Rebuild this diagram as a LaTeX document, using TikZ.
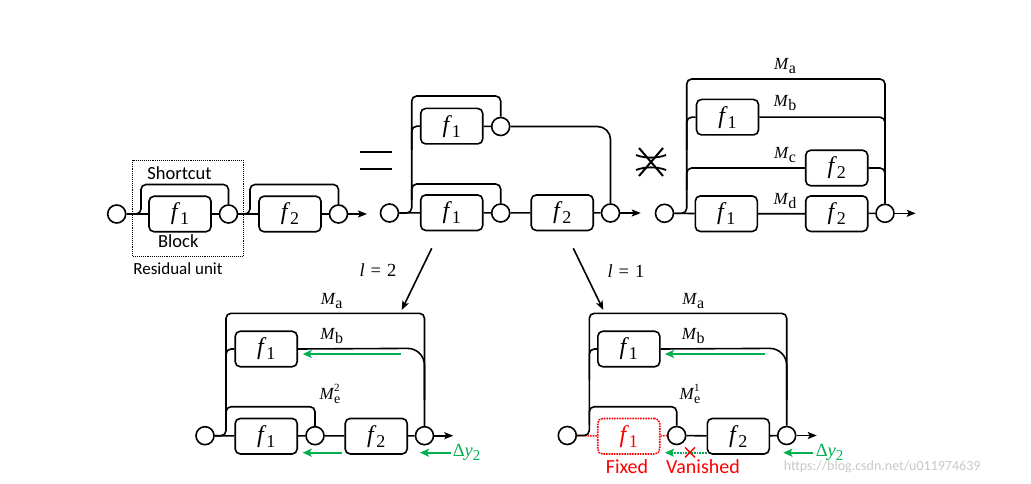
\documentclass[tikz,border=0pt]{standalone}
\usepackage{fontspec}
\setmainfont{Carlito}
\newfontfamily\mf{Liberation Serif}
\usetikzlibrary{arrows.meta}
\definecolor{gr}{HTML}{00B050}
\definecolor{rd}{HTML}{FF0000}
\definecolor{wm}{HTML}{C8C8C8}
\newcommand\fv[1]{{\mf\itshape f}\kern2.5pt\raisebox{-5pt}{\fontsize{18}{18}\selectfont\mf #1}}
\newcommand\Mv[1]{{\mf\itshape M}\kern0.5pt\raisebox{-4pt}{\fontsize{16}{16}\selectfont\mf #1}}
\newcommand\Mev[1]{{\mf\itshape M}\kern0.5pt\rlap{\raisebox{8pt}{\fontsize{11}{11}\selectfont\mf #1}}\raisebox{-4pt}{\fontsize{14}{14}\selectfont\mf e}}
\newcommand\dyv{{\mf Δ\itshape y}\raisebox{-4pt}{\fontsize{15}{15}\selectfont\mf 2}}
\newcommand\lv[1]{{\mf\itshape l}\kern6pt{\mf =}\kern6pt{\mf #1}}
\begin{document}
\begin{tikzpicture}[x=1pt,y=-1pt,line width=1.6pt,
  circ/.style={circle,draw,minimum size=18pt,inner sep=0pt,line width=1.6pt},
  blk/.style={draw,rounded corners=5pt,minimum width=62pt,minimum height=35.5pt,inner sep=0pt,font=\fontsize{24}{26}\selectfont},
  lbl/.style={font=\fontsize{17}{20}\selectfont,inner sep=0pt},
  lblb/.style={font=\fontsize{18.5}{20}\selectfont,inner sep=0pt},
  rlbl/.style={font=\fontsize{20}{22}\selectfont,inner sep=0pt,text=rd},
  mlbl/.style={font=\fontsize{17}{19}\selectfont,inner sep=0pt},
  llbl/.style={font=\fontsize{18.5}{20}\selectfont,inner sep=0pt},
  arr/.style={-{Stealth[length=9pt,width=7pt,inset=2pt]}},
  garr/.style={draw=gr,line width=1.8pt,-{Stealth[length=9pt,width=8pt,inset=2pt]}},
  rc/.style={rounded corners=5pt}]
\useasboundingbox (0,0) rectangle (1031,484);

% ---------------- left: residual units
\node[circ] (c1) at (116.7,214) {};
\node[blk] (b1) at (180,214) {\fv{1}};
\node[circ] (c2) at (228.5,214) {};
\node[blk] (b2) at (290,214) {\fv{2}};
\node[circ] (c3) at (338.5,214) {};
\coordinate (o1) at (367,214);
\draw (c1) -- (b1) -- (c2) -- (b2) -- (c3);
\draw[arr] (c3) -- (o1);
\draw[rc] (c1.east) -- (141,214) -- (141,184.5) -- (228.5,184.5) -- (c2.north);
\draw[rc] (c2.east) -- (250,214) -- (250,184.5) -- (338.5,184.5) -- (c3.north);
\draw[densely dotted,line width=0.9pt] (132.3,160) rectangle (243,256);
\node[lblb] (tshort) at (179.5,173.3) {Shortcut};
\node[lblb] (tblock) at (178.3,241) {Block};
\node[lbl] (tres) at (178,268.3) {Residual unit};

% equals sign
\draw[line width=2.2pt] (360,152) -- (392,152);
\draw[line width=2.2pt] (360,169) -- (392,169);

% ---------------- middle: unraveled
\node[circ] (d1) at (389.5,213) {};
\node[blk] (g1) at (451.7,212.7) {\fv{1}};
\node[circ] (d2) at (500.7,213) {};
\node[blk] (g2) at (562.2,212.7) {\fv{2}};
\node[circ] (d3) at (610.5,213) {};
\coordinate (o2) at (640.7,213);
\node[blk] (g0) at (451.7,126.2) {\fv{1}};
\node[circ] (e0) at (500.7,126.5) {};
\draw (d1) -- (g1) -- (d2) -- (g2) -- (d3);
\draw[arr] (d3) -- (o2);
\draw (g0) -- (e0);
\draw[rc] (d1.east) -- (411.7,213) -- (411.7,96) -- (500.7,96) -- (e0.north);
\draw[rc] (411.7,150) -- (411.7,126.2) -- (g0.west);
\draw[rc] (411.7,200) -- (411.7,184) -- (500.7,184) -- (d2.north);
\draw[rounded corners=13pt] (e0.east) -- (610.5,126.5) -- (d3.north);

% not-equivalent symbol
\draw[line width=2pt] (639,148) -- (663,176);
\draw[line width=2pt] (663,148) -- (639,176);
\draw[line width=1.8pt] (636,155) .. controls (645,158.5) and (657,158.5) .. (666,155);
\draw[line width=1.8pt] (636,170) .. controls (645,166.5) and (657,166.5) .. (666,170);

% ---------------- right: paths
\node[circ] (h1) at (664.5,213.3) {};
\node[blk] (k1) at (726.3,213.7) {\fv{1}};
\node[blk] (k2) at (836.7,213.7) {\fv{2}};
\node[circ] (h2) at (885,213.3) {};
\coordinate (o3) at (915.7,213.3);
\node[blk] (k0) at (727.5,117.2) {\fv{1}};
\node[blk] (k3) at (836.7,168) {\fv{2}};
\draw (h1) -- (k1) -- (k2) -- (h2);
\draw[arr] (h2) -- (o3);
\draw[rc] (h1.east) -- (686.7,213.3) -- (686.7,79) -- (885,79) -- (h2.north);
\draw[rc] (686.7,150) -- (686.7,117.2) -- (k0.west);
\draw[rc] (k0.east) -- (885,117.2) -- (885,140);
\draw[rc] (686.7,190) -- (686.7,168) -- (k3.west);
\draw[rc] (k3.east) -- (885,168) -- (885,190);
\node[mlbl] (ma1) at (785,66) {\Mv{a}};
\node[mlbl] (mb1) at (785,103) {\Mv{b}};
\node[mlbl] (mc1) at (785,155.5) {\Mv{c}};
\node[mlbl] (md1) at (785,201) {\Mv{d}};

% ---------------- arrows down
\coordinate (a2s) at (431.7,248.3);
\coordinate (a2e) at (401.7,310);
\coordinate (a1s) at (573.3,248.3);
\coordinate (a1e) at (603.3,310);
\draw[arr] (a2s) -- (a2e);
\draw[arr] (a1s) -- (a1e);
\node[llbl] (l2) at (378,270) {\lv{2}};
\node[llbl] (l1) at (626,271) {\lv{1}};

% ---------------- bottom left
\node[circ] (p1) at (205,435.7) {};
\node[blk] (q1) at (266.2,436.2) {\fv{1}};
\node[circ] (p2) at (315,435.7) {};
\node[blk] (q2) at (376.2,436.2) {\fv{2}};
\node[circ] (p3) at (424.5,435.7) {};
\coordinate (o4) at (453.3,435.7);
\node[blk] (q0) at (266.2,349) {\fv{1}};
\draw (p1) -- (q1) -- (p2) -- (q2) -- (p3);
\draw[arr] (p3) -- (o4);
\draw[rc] (p1.east) -- (226,435.7) -- (226,313.3) -- (424.5,313.3) -- (p3.north);
\draw[rc] (226,380) -- (226,349) -- (q0.west);
\draw[rounded corners=17pt] (q0.east) -- (424.5,348.3) -- (424.5,400);
\draw[rc] (226,425) -- (226,406.7) -- (315,406.7) -- (p2.north);
\node[mlbl] (ma2) at (331.7,301) {\Mv{a}};
\node[mlbl] (mb2) at (331.7,336) {\Mv{b}};
\node[mlbl] (me2) at (330,394) {\Mev{2}};
\coordinate (gb2s) at (400.7,354);
\coordinate (gb2e) at (302.7,354);
\draw[garr] (gb2s) -- (gb2e);
\coordinate (gl2s) at (341.7,452.7);
\coordinate (gl2e) at (302.7,452.7);
\draw[garr] (gl2s) -- (gl2e);
\coordinate (gy2s) at (450.7,452.7);
\coordinate (gy2e) at (420,452.7);
\draw[garr] (gy2s) -- (gy2e);
\node[llbl,text=gr,anchor=west] (dy2) at (452,452) {\dyv};

% ---------------- bottom right
\node[circ] (r1) at (567.3,435.5) {};
\node[blk,draw=rd,densely dotted,text=rd] (s1) at (628.7,436.2) {\fv{1}};
\node[circ] (r2) at (676.7,435.5) {};
\node[blk] (s2) at (738.3,436.2) {\fv{2}};
\node[circ] (r3) at (786.7,435.5) {};
\coordinate (o5) at (816.7,435.5);
\node[blk] (s0) at (628.8,349) {\fv{1}};
\draw[rd,densely dotted] (r1) -- (s1);
\draw[rd,densely dotted] (s1) -- (r2);
\draw (r2) -- (s2) -- (r3);
\draw[arr] (r3) -- (o5);
\draw[rc] (r1.east) -- (589.3,435.5) -- (589.3,313.3) -- (786.7,313.3) -- (r3.north);
\draw[rc] (589.3,380) -- (589.3,349) -- (s0.west);
\draw[rounded corners=17pt] (s0.east) -- (786.7,348.3) -- (786.7,400);
\draw[rc] (589.3,425) -- (589.3,406.7) -- (676.7,406.7) -- (r2.north);
\node[mlbl] (ma3) at (693.3,301) {\Mv{a}};
\node[mlbl] (mb3) at (693.3,336) {\Mv{b}};
\node[mlbl] (me1) at (690,394) {\Mev{1}};
\coordinate (gb1s) at (765,354);
\coordinate (gb1e) at (665,354);
\draw[garr] (gb1s) -- (gb1e);
\coordinate (gl1s) at (706.7,452.7);
\coordinate (gl1e) at (665,452.7);
\draw[garr,densely dotted] (gl1s) -- (gl1e);
\coordinate (gy1s) at (813.3,452.7);
\coordinate (gy1e) at (783.3,452.7);
\draw[garr] (gy1s) -- (gy1e);
\node[llbl,text=gr,anchor=west] (dy1) at (815,452) {\dyv};
\draw[rd,line width=1.4pt] (685,447.3) -- (695,457.3);
\draw[rd,line width=1.4pt] (695,447.3) -- (685,457.3);
\node[rlbl] (tfixed) at (627,466.5) {Fixed};
\node[rlbl] (tvan) at (703,466.5) {Vanished};

% watermark
\node[font=\fontsize{14}{16}\selectfont,text=wm,anchor=west,inner sep=0pt] (wmark) at (783,467) {https://blog.csdn.net/u011974639};
\end{tikzpicture}
\end{document}
